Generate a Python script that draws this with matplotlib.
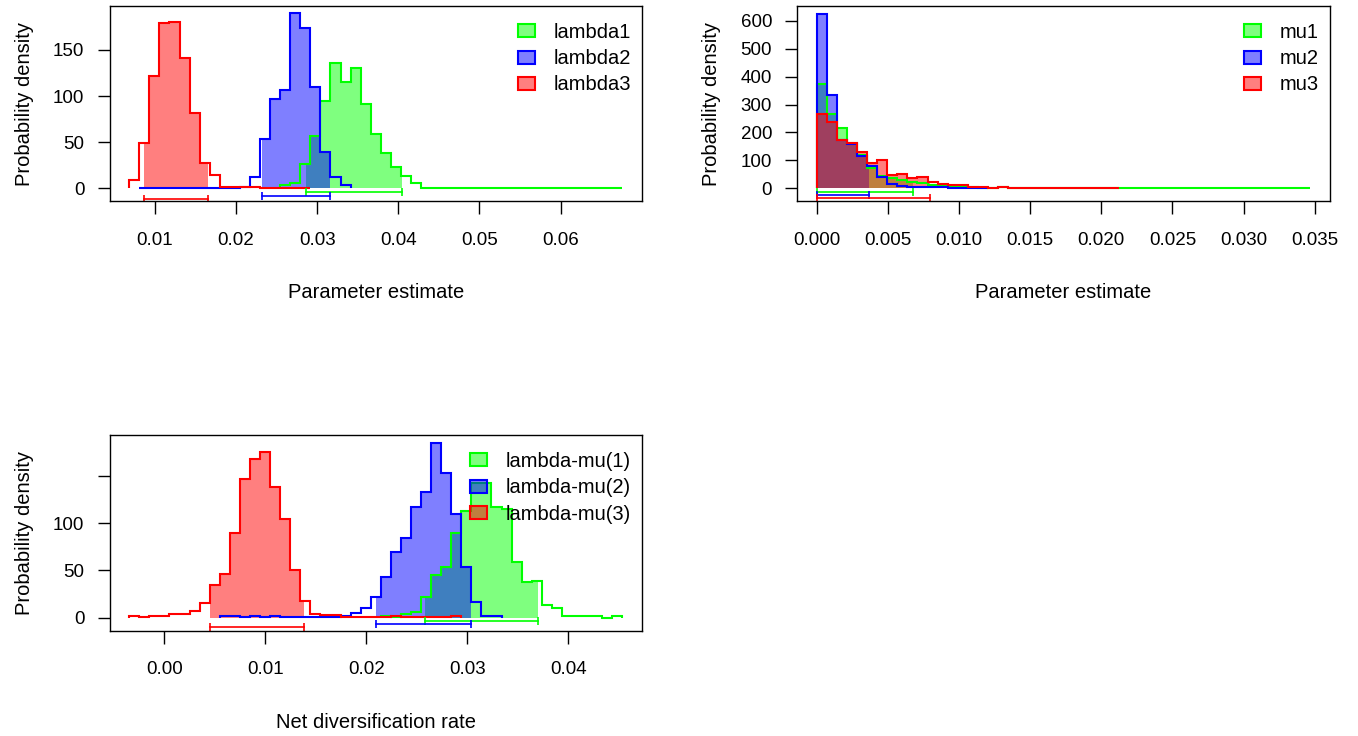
import numpy as np
import matplotlib
matplotlib.use("Agg")
import matplotlib.pyplot as plt
from matplotlib.patches import Patch
from matplotlib.colors import to_rgba

plt.rcParams['font.family'] = ['Liberation Sans', 'DejaVu Sans']
plt.rcParams['font.size'] = 14.5

colors = ['#00FF00', '#0000FF', '#FF0000']

# ---- speciation rate (lambda) ----
lam_names = ['lambda1', 'lambda2', 'lambda3']
lam_lo, lam_width, lam_nbins = 0.00684, 0.00124, 49
lam_start = [15, 1, 0]
lam1 = [3.3, 6.1, 26.4, 56.8, 95.1, 136.3, 115.7, 130.5, 91.1, 58.9, 38, 23.5, 13.7, 5.4,
        0, 0, 0, 0, 0, 0, 0, 0, 0, 0, 0, 0, 0, 0, 0, 0, 0, 0, 0, 0]
lam2 = [0, 0, 0, 0, 0, 0, 0, 0, 0, 0, 1.8, 12.7, 53.5, 96.5, 106.6, 189.8, 173.5, 109.5,
        39.8, 12.7, 3.6]
lam3 = [8.7, 49.5, 121.8, 179, 180.8, 141, 81.3, 27.1, 14.5, 1.8, 1.0, 1.8, 0.9, 0.3, 0.3,
        0.3, 0.3, 0.3]
lam_ci = [(0.0286, 0.0404), (0.0232, 0.0316), (0.0087, 0.0165)]
lam_ci_y = [-4.3, -8.0, -11.2]

# ---- extinction rate (mu) ----
mu_names = ['mu1', 'mu2', 'mu3']
mu_lo, mu_width, mu_nbins = 0.0, 0.000708, 49
mu_start = [0, 0, 0]
mu1 = [373, 266, 215, 161, 119, 72, 45, 38, 30, 24, 18, 12, 8, 6, 4, 3, 2, 1, 4,
       0, 0, 0, 0, 0, 0, 0, 0, 0, 0, 0, 0, 0, 0, 0, 0, 0, 0, 0, 0, 0, 0, 0, 0, 0, 0,
       0, 0, 0, 0]
mu2 = [624, 334, 173, 159, 117, 81, 42, 14, 8, 6, 5, 3, 3, 2, 2, 2, 2]
mu3 = [266, 236, 173, 163, 131, 89, 101, 48, 51, 36, 41, 21, 16, 11, 11, 6, 6, 0, 6,
       0, 0, 0, 0, 0, 0, 0, 0, 0, 0, 0]
mu_ci = [(0.0, 0.00679), (0.0, 0.00366), (0.0, 0.00794)]
mu_ci_y = [-12, -24, -36]

# ---- net diversification (lambda - mu) ----
nd_names = ['lambda-mu(1)', 'lambda-mu(2)', 'lambda-mu(3)']
nd_lo, nd_width, nd_nbins = -0.003485, 0.000997, 49
nd_start = [25, 9, 0]
nd1 = [1.8, 0.4, 3.5, 6.4, 22.2, 45.2, 54, 89.3, 113.3, 143, 143, 117.5, 114.7, 59.3,
       38.1, 38.8, 13.4, 9.9, 1.8, 1.8, 1.8, 1.8, 0, 2.1]
nd2 = [2, 2, 0.4, 2, 0.4, 2, 0.4, 0.4, 0.4, 0.4, 0.4, 0.4, 1.8, 4.6, 9.9, 22.2, 42.7,
       69.2, 84, 117.5, 133.4, 184.6, 152.8, 109.8, 54, 16.2, 1.8, 1.8]
nd3 = [1.8, 0.4, 2.1, 2.1, 4.2, 4.2, 7.1, 15.5, 34.2, 45.9, 89.3, 146.8, 168.4, 175,
       138.7, 104.5, 50.5, 18, 4.2, 2.5, 2.5, 0.4, 0.4, 0.4, 0.4, 0.4, 2.1, 0.4, 0.4,
       0.4, 0.4, 0.4, 2.1]
nd_ci = [(0.02586, 0.03702), (0.0210, 0.03037), (0.00454, 0.01382)]
nd_ci_y = [-3.3, -6.4, -9.9]


def draw_panel(ax, lo, width, nbins, starts, series, cis, ci_y, names):
    all_edges = []
    for start, vals, (c_lo, c_hi), c in zip(starts, series, cis, colors):
        vals = np.asarray(vals, float)
        edges = lo + width * np.arange(start, start + len(vals) + 1)
        all_edges.append(edges)
        inner = edges[(edges > c_lo) & (edges < c_hi)]
        xs = np.concatenate([[c_lo], inner, [c_hi]])
        idx = np.clip(np.searchsorted(edges, xs, side='right') - 1, 0, len(vals) - 1)
        ax.fill_between(xs, vals[idx], step='post', color=c, alpha=0.5, lw=0)
    for vals, edges, c in zip(series, all_edges, colors):
        ax.stairs(vals, edges, baseline=0, color=c, lw=1.5)
    for (c_lo, c_hi), y, c in zip(cis, ci_y, colors):
        ax.plot([c_lo, c_hi], [y, y], color=c, lw=1.2)
        ax.plot([c_lo, c_hi], [y, y], ls='none', marker='|', ms=6, mew=1.2, color=c)
    hi = lo + width * nbins
    pad = 0.04 * (hi - lo)
    ax.set_xlim(lo - pad, hi + pad)
    handles = [Patch(facecolor=to_rgba(c, 0.5), edgecolor=c, lw=1.5) for c in colors]
    ax.legend(handles, names, loc='upper right', bbox_to_anchor=(0.979, 0.913),
              frameon=False, borderpad=0, borderaxespad=0, handlelength=0.83,
              handleheight=0.62, handletextpad=0.92, labelspacing=0.36)
    ax.tick_params(direction='out', length=9, width=1, labelsize=13.5)
    ax.tick_params(axis='x', pad=13)
    ax.tick_params(axis='y', pad=9)
    for s in ax.spines.values():
        s.set_linewidth(1)
    ax.set_ylabel('Probability density')
    ax.yaxis.set_label_coords(-0.16, 0.5)
    ax.yaxis.label.set_va('center')


W, H = 1358, 736
fig = plt.figure(figsize=(W / 100, H / 100), dpi=100)


def add_ax(left, top, right, bottom):
    return fig.add_axes([left / W, 1 - bottom / H, (right - left) / W, (bottom - top) / H])


ax1 = add_ax(109.5, 6, 642, 201)
draw_panel(ax1, lam_lo, lam_width, lam_nbins, lam_start, [lam1, lam2, lam3], lam_ci, lam_ci_y, lam_names)
ax1.set_ylim(-13.8, 197.7)
ax1.set_yticks([0, 50, 100, 150])
ax1.set_xticks([0.01, 0.02, 0.03, 0.04, 0.05, 0.06])
ax1.set_xticklabels(['0.01', '0.02', '0.03', '0.04', '0.05', '0.06'])
ax1.set_xlabel('Parameter estimate')

ax2 = add_ax(797, 6, 1330, 201)
draw_panel(ax2, mu_lo, mu_width, mu_nbins, mu_start, [mu1, mu2, mu3], mu_ci, mu_ci_y, mu_names)
ax2.set_ylim(-45.5, 653)
ax2.set_yticks([0, 100, 200, 300, 400, 500, 600])
ax2.set_xticks([0, 0.005, 0.01, 0.015, 0.02, 0.025, 0.03, 0.035])
ax2.set_xticklabels(['0.000', '0.005', '0.010', '0.015', '0.020', '0.025', '0.030', '0.035'])
ax2.set_xlabel('Parameter estimate')

ax3 = add_ax(109.5, 435, 642, 630.7)
draw_panel(ax3, nd_lo, nd_width, nd_nbins, nd_start, [nd1, nd2, nd3], nd_ci, nd_ci_y, nd_names)
ax3.set_ylim(-13.8, 193.5)
ax3.set_yticks([0, 50, 100, 150])
ax3.set_yticklabels(['0', '50', '100', ''])
ax3.set_xticks([0, 0.01, 0.02, 0.03, 0.04])
ax3.set_xticklabels(['0.00', '0.01', '0.02', '0.03', '0.04'])
ax3.set_xlabel('Net diversification rate')

for ax in (ax1, ax2, ax3):
    ax.xaxis.set_label_coords(0.5, -0.467)
    ax.xaxis.label.set_va('center')

fig.savefig('out.png', dpi=100)
